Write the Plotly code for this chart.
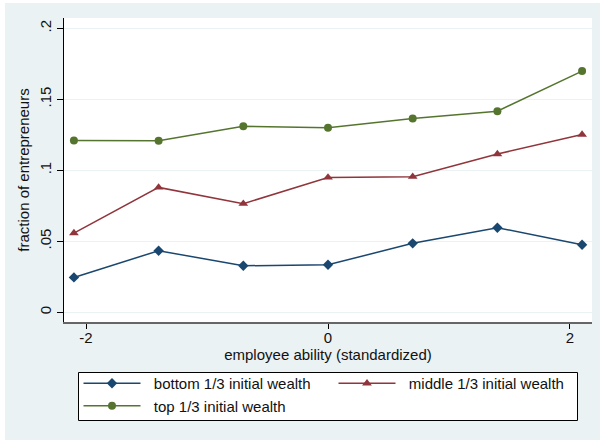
import plotly.graph_objects as go

# Data
ability = [-2.1, -1.4, -0.7, 0.0, 0.7, 1.4, 2.1]
bottom_third = [0.0246, 0.0434, 0.0328, 0.0335, 0.0486, 0.0596, 0.0476]
middle_third = [0.0558, 0.0880, 0.0765, 0.0950, 0.0955, 0.1115, 0.1252]
top_third = [0.1211, 0.1208, 0.1310, 0.1300, 0.1366, 0.1417, 0.1699]

series_names = ["bottom 1/3 initial wealth", "middle 1/3 initial wealth", "top 1/3 initial wealth"]
y_tickvals = [0, 0.05, 0.1, 0.15, 0.2]
y_ticktext = ["0", ".05", ".1", ".15", ".2"]
x_tickvals = [-2, 0, 2]
x_ticktext = ["-2", "0", "2"]

NAVY = "#1A476F"
MAROON = "#90353B"
GREEN = "#55752F"
BG = "#EAF2F3"
FONT = "Liberation Sans, Arial, sans-serif"
PAD = "\u00a0\u00a0"

fig = go.Figure()
fig.add_trace(go.Scatter(x=ability, y=bottom_third, name=PAD + series_names[0], mode="lines+markers",
                         line=dict(color=NAVY, width=1.5),
                         marker=dict(symbol="diamond", size=8, color=NAVY)))
fig.add_trace(go.Scatter(x=ability, y=middle_third, name=PAD + series_names[1], mode="lines+markers",
                         line=dict(color=MAROON, width=1.5),
                         marker=dict(symbol="triangle-up", size=8.5, color=MAROON)))
fig.add_trace(go.Scatter(x=ability, y=top_third, name=PAD + series_names[2], mode="lines+markers",
                         line=dict(color=GREEN, width=1.5),
                         marker=dict(symbol="circle", size=8, color=GREEN)))

# plot area: x 64..592 px, y 18..322 px
def px_x(p):
    return (p - 64) / 528

def px_y(p):
    return (322 - p) / 304

fig.update_layout(
    width=600, height=440,
    margin=dict(l=64, r=8, t=18, b=118, pad=0),
    paper_bgcolor=BG,
    plot_bgcolor="white",
    font=dict(family=FONT, size=15, color="#111"),
    showlegend=True,
    legend=dict(
        orientation="h",
        x=px_x(78.5), y=px_y(367), xanchor="left", yanchor="top",
        bgcolor="rgba(0,0,0,0)", borderwidth=0,
        itemwidth=57, entrywidth=183, entrywidthmode="pixels",
        font=dict(family=FONT, size=15, color="#111"),
        traceorder="normal",
    ),
    shapes=[
        dict(type="rect", xref="paper", yref="paper", x0=-0.13, x1=px_x(5),
             y0=-0.4, y1=1.1, fillcolor="white", line=dict(width=0), layer="above"),
        dict(type="rect", xref="paper", yref="paper", x0=-0.13, x1=1.1,
             y0=px_y(3), y1=1.1, fillcolor="white", line=dict(width=0), layer="above"),
        dict(type="rect", xref="paper", yref="paper", x0=px_x(78.5), x1=px_x(577.5),
             y0=px_y(420.5), y1=px_y(372.5), fillcolor="white",
             line=dict(width=1, color="#000"), layer="above"),
    ],
)

fig.update_xaxes(
    range=[-2.182, 2.182],
    tickvals=x_tickvals, ticktext=x_ticktext,
    ticks="outside", ticklen=5, tickwidth=1, tickcolor="#000",
    ticklabelstandoff=-4,
    showline=True, linecolor="#666", linewidth=1.5,
    showgrid=False, zeroline=False,
    title=dict(text="employee ability (standardized)", font=dict(size=15), standoff=4),
    tickfont=dict(size=15),
)
fig.update_yaxes(
    range=[-0.0068, 0.2073],
    tickvals=y_tickvals, ticktext=y_ticktext,
    tickangle=-90,
    ticks="outside", ticklen=6, tickwidth=1, tickcolor="#000",
    showline=True, linecolor="#000", linewidth=1.2,
    showgrid=True, gridcolor=BG, gridwidth=1,
    zeroline=False,
    title=dict(text="fraction of entrepreneurs", font=dict(size=15), standoff=3),
    tickfont=dict(size=15),
)

fig.write_html("out.html", config={"displayModeBar": False},
               post_script="document.body.style.margin='0px';")
